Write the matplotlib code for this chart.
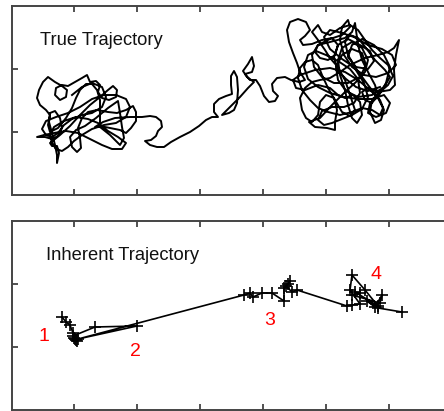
import matplotlib.pyplot as plt

# true trajectory (arbitrary position units)
true_x = [60, 70, 80, 90, 94, 90, 80, 70, 60, 52, 46, 40, 34, 30, 34, 44, 56, 68, 80, 92,
          104, 114, 118, 114, 104, 92, 80, 70, 62, 56, 50, 44, 40, 38, 42, 52, 64, 76, 86, 96,
          106, 114, 110, 100, 90, 78, 66, 54, 42, 32,
          25, 33, 40, 46, 50, 48, 43, 38, 37, 40, 43, 45, 45, 47, 45, 40, 38, 48, 58, 68,
          78, 88, 96, 101, 105, 104, 97, 90, 86, 88, 84, 78, 75, 70, 63, 56, 50, 44, 43, 48,
          54, 55, 50, 43, 36, 31, 27, 25, 28, 34, 38, 36, 38, 46, 54, 60, 64, 68, 74, 80,
          85, 88, 88, 88, 98, 108, 112, 110, 108, 106, 96, 84, 73, 64, 58, 60, 65, 69, 68, 66,
          70, 76, 85, 96, 105, 114, 121, 124, 124, 119, 114, 108, 93, 83, 91, 103, 118, 130, 138, 144,
          149, 150, 146, 144, 139, 133, 138, 145, 152, 159, 168, 178, 187, 194, 200, 206, 202, 202, 207, 214,
          220, 219, 219, 222, 225, 226, 225, 222, 217, 210, 218, 228, 236, 242, 235, 231, 236, 240, 242, 240,
          233, 238, 244, 248, 252, 257, 263, 266, 261, 260, 265, 273, 279, 287, 293, 288, 285, 281, 277, 275,
          278, 286, 294, 298, 293, 288, 291, 300, 310, 320, 326, 323, 316, 308, 303, 306, 318, 333, 340, 343,
          346, 350, 356, 363, 366, 360, 353, 350, 356, 366, 378, 383, 382, 384, 387, 382, 376, 366, 353, 338,
          328, 318, 308, 300, 293, 288, 290, 294, 300, 306, 308, 314, 322, 325, 323, 323, 315, 303, 297, 308,
          320, 333, 344, 353, 356, 350, 340, 330, 326, 328, 333, 336, 340, 345, 350, 348, 341, 333, 326, 318,
          306, 293, 284, 281, 288, 303, 318, 333, 346, 358, 368, 372, 369, 363, 358, 360, 368, 376, 381, 376,
          368, 360, 353, 346, 338, 328, 318, 310, 306, 300, 306, 313, 318, 325, 333, 338, 343, 338, 330, 323,
          316, 310, 306, 300, 293, 288, 286, 290, 298, 306, 316, 328, 340, 350, 360, 368, 371, 366, 356, 345,
          336, 333, 338, 346, 354, 363, 373,
          378, 372, 360, 346, 334, 326, 324, 330, 340, 350, 354, 348, 336, 322, 310, 302, 300, 306, 318, 330,
          338, 336, 330, 328, 332, 340, 352, 364, 376, 384, 380, 370, 356, 342, 330, 318, 312, 318, 330, 342,
          352, 356, 350, 340, 330, 320, 312, 306, 310, 320, 332, 342, 348, 346, 338, 326, 314, 304, 296, 292,
          296, 306, 318, 332, 346, 360, 372, 378, 374, 364, 356, 358, 366, 374, 378, 372, 362, 350, 340, 336,
          344, 356, 362, 358, 348, 336, 326, 322, 326, 334, 344, 356, 368]
true_y = [100, 108, 112, 108, 98, 88, 82, 80, 76, 70, 62, 58, 60, 66, 74, 78, 82, 88, 96, 100,
          100, 96, 88, 78, 72, 70, 66, 60, 54, 48, 44, 46, 52, 60, 68, 74, 78, 76, 72, 64,
          58, 52, 46, 46, 50, 56, 62, 64, 62, 60,
          58, 58, 56, 59, 67, 77, 84, 82, 73, 62, 50, 40, 32, 42, 49, 49, 52, 60, 69, 80,
          90, 98, 105, 109, 105, 98, 95, 97, 103, 110, 114, 113, 120, 117, 113, 109, 110, 107, 100, 95,
          98, 105, 109, 113, 118, 113, 105, 97, 90, 85, 80, 70, 63, 67, 77, 87, 97, 105, 111, 111,
          105, 95, 83, 68, 60, 50, 57, 68, 82, 94, 87, 77, 69, 65, 58, 48, 43, 47, 57, 67,
          77, 83, 85, 83, 82, 85, 89, 83, 74, 67, 62, 65, 68, 68, 73, 77, 78, 78, 79, 78,
          74, 68, 64, 59, 55, 54, 50, 48, 48, 53, 58, 63, 69, 75, 78, 78, 83, 91, 96, 99,
          101, 110, 119, 124, 118, 105, 92, 85, 82, 80, 88, 98, 107, 113, 118, 124, 131, 138, 129, 123,
          121, 115, 115, 109, 99, 93, 94, 99, 104, 111, 117, 118, 115, 113, 115, 123, 132, 142, 153, 165,
          173, 176, 173, 165, 159, 155, 150, 151, 155, 157, 150, 140, 135, 137, 143, 150, 153, 157, 163, 172,
          150, 135, 123, 110, 100, 92, 95, 103, 107, 103, 105, 110, 125, 140, 155, 147, 143, 140, 137, 130,
          123, 117, 115, 113, 107, 97, 85, 77, 73, 80, 93, 100, 97, 85, 73, 65, 67, 68, 73, 77,
          90, 103, 113, 123, 135, 147, 153, 147, 135, 120, 105, 90, 77, 72, 80, 93, 100, 97, 100, 107,
          110, 105, 107, 115, 120, 125, 127, 123, 115, 105, 95, 85, 75, 72, 83, 95, 103, 110, 119, 130,
          137, 145, 155, 165, 170, 167, 160, 163, 170, 163, 155, 145, 137, 129, 115, 100, 85, 79, 83, 95,
          107, 120, 130, 135, 133, 127, 117, 105, 95, 87, 83, 80, 83, 87, 85, 80, 87, 97, 110, 125,
          140, 153, 160, 157, 147, 135, 125,
          118, 108, 100, 98, 104, 115, 128, 140, 146, 142, 130, 118, 112, 112, 118, 128, 140, 150, 156, 160,
          168, 175, 168, 155, 140, 128, 120, 118, 122, 130, 140, 146, 150, 158, 162, 165, 158, 146, 136, 128,
          112, 98, 86, 80, 76, 72, 70, 75, 84, 88, 88, 92, 102, 116, 126, 134, 140, 144, 140, 128,
          116, 108, 102, 98, 96, 96, 100, 92, 82, 78, 82, 92, 98, 112, 128, 140, 150, 156, 150, 138,
          128, 126, 134, 144, 150, 156, 150, 138, 124, 116, 108, 104, 108]

# inherent trajectory
inh_x = [50, 54, 58, 61, 63, 65, 62, 64, 61, 83, 125, 66, 232, 238, 241, 250, 260, 272, 272, 276,
         278, 274, 280, 285, 335, 340, 348, 338, 340, 353, 366, 343, 348, 340, 368, 370, 363, 355, 366, 390]
inh_y = [93, 88, 85, 77, 71, 69, 72, 70, 74, 83, 84, 71, 115, 117, 113, 117, 117, 109, 122, 126,
         129, 124, 118, 120, 104, 105, 106, 120, 135, 120, 104, 118, 117, 115, 107, 115, 103, 109, 102, 98]

seg_labels = ['1', '2', '3', '4']
seg_x = [32, 123, 258, 364]
seg_y = [74, 59, 90, 136]

tick_x = [62, 125, 188, 251, 314, 377]
tick_y = [63, 126]

fig = plt.figure(figsize=(4.44, 4.11), dpi=100)
ax1 = fig.add_axes([12/444, 1 - 195/411, 441/444, 189/411])
ax2 = fig.add_axes([12/444, 1 - 410/411, 441/444, 189/411])

for ax in (ax1, ax2):
    ax.set_xlim(0, 441)
    ax.set_ylim(0, 189)
    ax.set_xticks(tick_x)
    ax.set_yticks(tick_y)
    ax.tick_params(direction='in', length=4, width=1.2, color='#333333',
                   top=True, bottom=True, left=True, right=False,
                   labelbottom=False, labelleft=False)
    for s in ax.spines.values():
        s.set_color('#444444')
        s.set_linewidth(1.4)

ax1.plot(true_x, true_y, color='black', lw=1.4, solid_joinstyle='round')
ax1.text(28, 150, 'True Trajectory', fontsize=13.2, family='Liberation Sans',
         ha='left', va='baseline', color='#111111')

ax2.plot(inh_x, inh_y, color='black', lw=1.2, marker='+', ms=8.5, mew=1.2)
ax2.text(34, 150, 'Inherent Trajectory', fontsize=13.2, family='Liberation Sans',
         ha='left', va='baseline', color='#111111')
for lab, x, y in zip(seg_labels, seg_x, seg_y):
    ax2.text(x, y, lab, color='red', fontsize=14, family='Liberation Sans',
             ha='center', va='center')

fig.savefig('out.png', dpi=100)
